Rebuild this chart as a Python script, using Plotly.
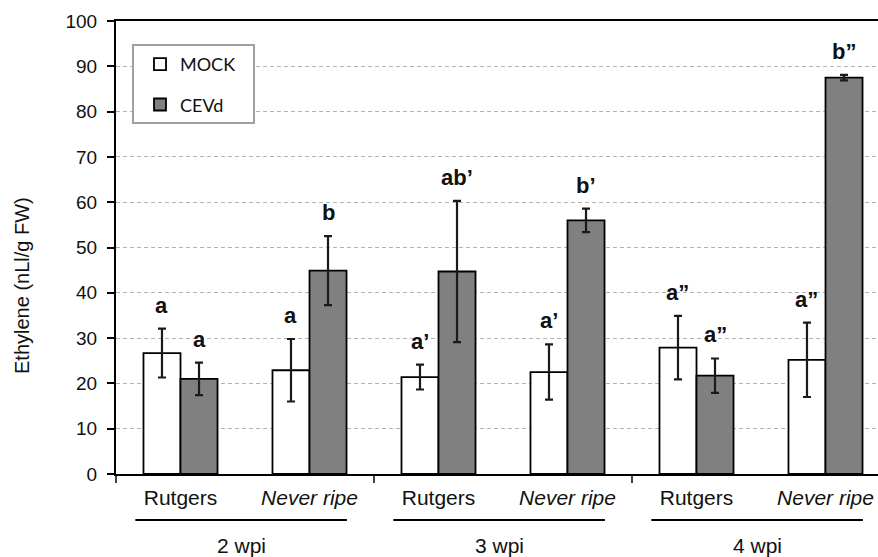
import plotly.graph_objects as go

# ---- data ----
cultivars = ["Rutgers", "<i>Never ripe</i>", "Rutgers", "<i>Never ripe</i>", "Rutgers", "<i>Never ripe</i>"]
weeks = ["2 wpi", "3 wpi", "4 wpi"]
mock = [26.7, 22.9, 21.4, 22.5, 27.9, 25.2]
mock_err = [5.4, 6.9, 2.75, 6.1, 7.0, 8.2]
cevd = [21.0, 44.9, 44.7, 56.0, 21.7, 87.5]
cevd_err = [3.6, 7.6, 15.6, 2.6, 3.8, 0.6]
mock_letters = ["a", "a", "a\u2019", "a\u2019", "a\u201d", "a\u201d"]
cevd_letters = ["a", "b", "ab\u2019", "b\u2019", "a\u201d", "b\u201d"]
y_ticks = list(range(0, 101, 10))
y_title = "Ethylene (nLl/g FW)"

W, H = 878, 557
PLOT_W, PLOT_H = 762, 453
BARGAP = 0.426
xpos = list(range(len(cultivars)))

fig = go.Figure()
fig.add_trace(go.Bar(
    x=xpos, y=mock, name="MOCK", legendgroup="m",
    marker=dict(color="white", line=dict(color="black", width=1.8)),
    error_y=dict(type="data", array=mock_err, color="#1a1a1a", thickness=2.2, width=4),
))
fig.add_trace(go.Bar(
    x=xpos, y=cevd, name="CEVd", legendgroup="c",
    marker=dict(color="#808080", line=dict(color="black", width=1.8)),
    error_y=dict(type="data", array=cevd_err, color="#1a1a1a", thickness=2.2, width=4),
))

half = (1 - BARGAP) / 2
annotations = []
for k, (vals, errs, letters) in enumerate([(mock, mock_err, mock_letters), (cevd, cevd_err, cevd_letters)]):
    for i, (v, e, t) in enumerate(zip(vals, errs, letters)):
        annotations.append(dict(
            x=i + (k - 0.5) * half, y=v + e, xref="x", yref="y",
            text="<b>%s</b>" % t, showarrow=False, yanchor="bottom", yshift=9,
            font=dict(family="Liberation Sans", size=22, color="#111"),
        ))

shapes = []
for g, wk in enumerate(weeks):
    c = 2 * g + 0.47
    annotations.append(dict(
        x=c, y=0, xref="x", yref="paper", text=wk, showarrow=False,
        yanchor="top", yshift=-58, font=dict(family="Liberation Sans", size=21, color="#111"),
    ))
    shapes.append(dict(
        type="line", xref="x", yref="paper", x0=c - 0.82, x1=c + 0.82,
        y0=-46 / PLOT_H, y1=-46 / PLOT_H, line=dict(color="black", width=2.2),
    ))

# legend frame
shapes.append(dict(
    type="rect", xref="paper", yref="paper", layer="above",
    x0=17 / PLOT_W, x1=138 / PLOT_W, y0=(PLOT_H - 102) / PLOT_H, y1=(PLOT_H - 24) / PLOT_H,
    fillcolor="white", line=dict(color="#a0a0a0", width=2),
))

# y-axis title (placed like the original, slightly below the axis middle)
annotations.append(dict(
    x=-94 / PLOT_W, y=0.415, xref="paper", yref="paper", text=y_title,
    textangle=-90, showarrow=False, xanchor="center", yanchor="middle",
    font=dict(family="Liberation Sans", size=20, color="#111"),
))

x_right = -0.5 + (W - 116) / 129.0

fig.update_layout(
    width=W, height=H,
    margin=dict(l=116, r=0, t=21, b=83),
    paper_bgcolor="white", plot_bgcolor="white",
    barmode="group", bargap=BARGAP, bargroupgap=0,
    showlegend=True,
    legend=dict(
        x=24 / PLOT_W, y=0.945, xanchor="left", yanchor="top",
        borderwidth=0, bgcolor="rgba(0,0,0,0)",
        font=dict(family="Lato", size=18, color="#111"),
        traceorder="grouped", tracegroupgap=14,
    ),
    xaxis=dict(
        range=[-0.5, x_right], tickmode="array", tickvals=xpos, ticktext=cultivars,
        ticks="", showgrid=False, zeroline=False,
        showline=True, linecolor="black", linewidth=2, mirror=True,
        tickfont=dict(family="Liberation Sans", size=21, color="#111"),
        ticklabelstandoff=4,
        minor=dict(tickmode="array", tickvals=[-0.5, 1.5, 3.5], ticks="outside",
                   ticklen=7, tickwidth=1.5, tickcolor="#444", showgrid=False),
    ),
    yaxis=dict(
        range=[0, 100], tickmode="array", tickvals=y_ticks,
        ticks="outside", ticklen=7, tickwidth=1.5, tickcolor="black",
        showline=True, linecolor="black", linewidth=2, zeroline=False,
        showgrid=True, gridcolor="#b3b3b3", gridwidth=1, griddash="4px,3px",
        tickfont=dict(family="Liberation Sans", size=19, color="#111"),
        ticklabelstandoff=6,
    ),
    annotations=annotations, shapes=shapes,
)

fig.write_html("out.html")
